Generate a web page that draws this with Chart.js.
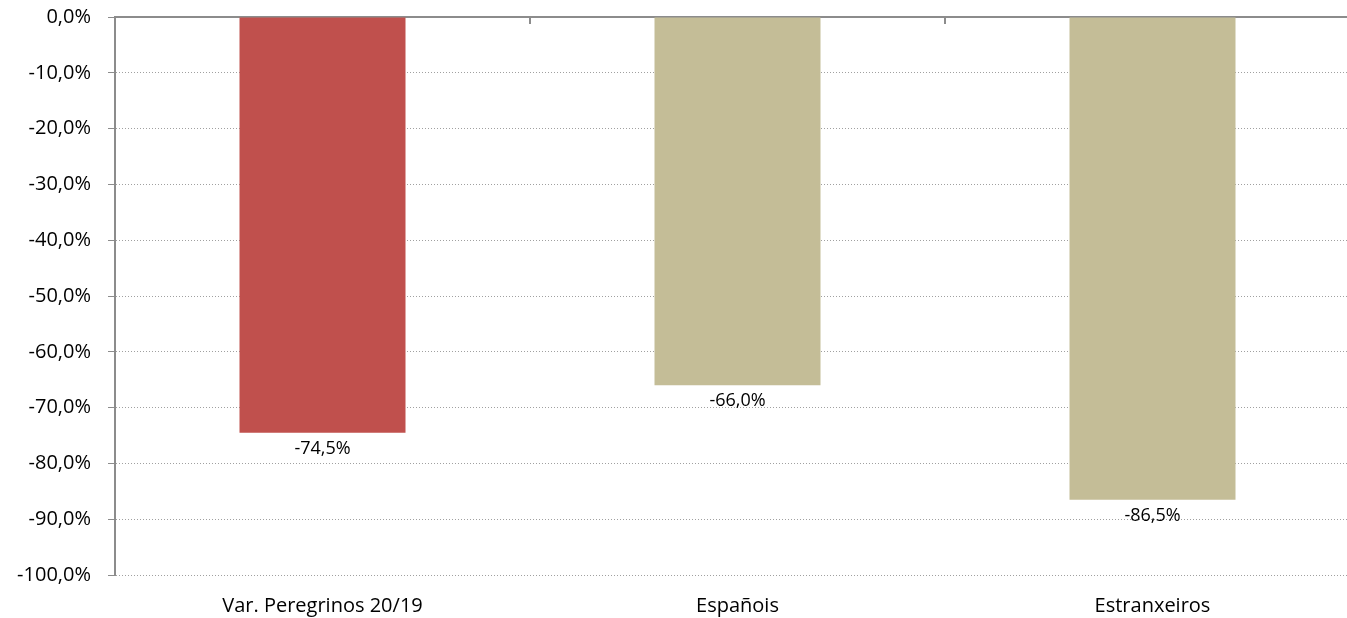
<!DOCTYPE html>
<html>
<head>
<meta charset="utf-8">
<script src="https://cdn.jsdelivr.net/npm/chart.js@4.4.1/dist/chart.umd.min.js"></script>
<style>
  html, body { margin: 0; padding: 0; background: #fff; overflow: hidden; }
  #wrap { width: 1360px; height: 618px; position: relative; }
</style>
</head>
<body>
<div id="wrap"><canvas id="chart"></canvas></div>
<script>
// Chart data
const categories = ['Var. Peregrinos 20/19', 'Españois', 'Estranxeiros'];
const variation = [-74.5, -66.0, -86.5];
const barColors = ['#C0504D', '#C4BD97', '#C4BD97'];
const yTicks = [0, -10, -20, -30, -40, -50, -60, -70, -80, -90, -100];

const FONT = '"Open Sans", "Noto Sans", sans-serif';

function pct(v) {
  return v.toFixed(1).replace('.', ',') + '%';
}

// labels under the end of each bar
const barLabels = {
  id: 'barLabels',
  afterDatasetsDraw(chart) {
    const ctx = chart.ctx;
    const meta = chart.getDatasetMeta(0);
    ctx.save();
    ctx.font = '18px ' + FONT;
    ctx.fillStyle = '#000';
    ctx.textAlign = 'center';
    ctx.textBaseline = 'middle';
    meta.data.forEach((bar, i) => {
      ctx.fillText(pct(variation[i]), bar.x, bar.y + 16);
    });
    ctx.restore();
  }
};

// small tick marks hanging under the top axis between categories
const topTicks = {
  id: 'topTicks',
  afterDraw(chart) {
    const x = chart.scales.x;
    const ctx = chart.ctx;
    const top = chart.chartArea.top;
    ctx.save();
    ctx.strokeStyle = '#8c8c8c';
    ctx.lineWidth = 2;
    for (let i = 1; i < categories.length; i++) {
      const px = (x.getPixelForValue(i - 1) + x.getPixelForValue(i)) / 2;
      ctx.beginPath();
      ctx.moveTo(px, top);
      ctx.lineTo(px, top + 7);
      ctx.stroke();
    }
    ctx.restore();
  }
};

new Chart(document.getElementById('chart'), {
  type: 'bar',
  data: {
    labels: categories,
    datasets: [{
      data: variation,
      backgroundColor: barColors,
      borderWidth: 0,
      categoryPercentage: 1,
      barPercentage: 0.4
    }]
  },
  options: {
    responsive: true,
    maintainAspectRatio: false,
    animation: false,
    layout: { padding: 0 },
    plugins: {
      legend: { display: false },
      tooltip: { enabled: false }
    },
    scales: {
      x: {
        position: 'bottom',
        grid: { display: false },
        border: { display: false },
        ticks: {
          color: '#000',
          font: { family: FONT, size: 20 },
          padding: 11
        },
        afterFit(s) { s.height = 43; }
      },
      xTop: {
        type: 'category',
        position: 'top',
        labels: categories,
        grid: { display: false },
        ticks: { display: false },
        border: { display: true, color: '#8c8c8c', width: 2 },
        afterFit(s) { s.height = 17; }
      },
      y: {
        min: -100,
        max: 0,
        afterBuildTicks(s) { s.ticks = yTicks.map(v => ({ value: v })); },
        ticks: {
          color: '#000',
          font: { family: FONT, size: 20 },
          padding: 17,
          callback: v => pct(v)
        },
        grid: {
          color: c => (c.tick && c.tick.value === 0) ? 'rgba(0,0,0,0)' : '#a0a0a0',
          lineWidth: 1,
          tickLength: 7,
          tickColor: '#8c8c8c',
          tickBorderDash: [10, 0]
        },
        border: { display: true, color: '#8c8c8c', width: 2, dash: [1, 2] },
        afterFit(s) {
          s.width = 115;
          s.paddingTop = 0;
          s.paddingBottom = 0;
        }
      }
    }
  },
  plugins: [barLabels, topTicks]
});
</script>
</body>
</html>
